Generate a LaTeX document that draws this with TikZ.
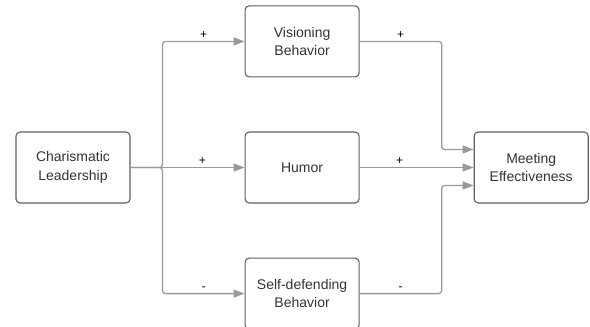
\documentclass[tikz,border=0pt]{standalone}
\usepackage{fontspec}
\setmainfont{Liberation Sans}
\usepackage{xcolor}
\usetikzlibrary{arrows.meta, positioning, calc}
\definecolor{linegray}{HTML}{9A9A9A}
\definecolor{boxgray}{HTML}{5F5F5F}
\definecolor{textgray}{HTML}{333333}

\begin{document}
\begin{tikzpicture}[
    x=1pt, y=-1pt,
    node distance=54pt and 114pt,
    box/.style={rectangle, draw=boxgray, line width=1.1pt, fill=white, text=textgray, minimum width=114pt, minimum height=71pt, align=center, rounded corners=4pt, font=\fontsize{14}{18.5}\selectfont},
    arrow/.style={-{Triangle[length=11pt,width=8pt]}, draw=linegray, line width=1.3pt, rounded corners=3pt},
    sign/.style={font=\fontsize{12}{14}\selectfont, text=black, inner sep=2pt}
]
\useasboundingbox (0,0) rectangle (590,327);

\node[box] (leadership) at (73,167.5) {Charismatic\\Leadership};
\node[box, right=of leadership] (humor) {Humor};
\node[box, above=of humor] (visioning) {Visioning\\Behavior};
\node[box, below=of humor] (selfdef) {Self-defending\\Behavior};
\node[box, right=of humor] (meeting) {Meeting\\Effectiveness};

\draw[arrow] (leadership.east) -- ++(32,0) |- node[sign, pos=0.75, above] {+} (visioning.west);
\draw[arrow] (leadership.east) -- node[sign, pos=0.63, above] {+} (humor.west);
\draw[arrow] (leadership.east) -- ++(32,0) |- node[sign, pos=0.75, above] {-} (selfdef.west);

\draw[arrow] (visioning.east) -| node[sign, pos=0.25, above] {+} ([xshift=-32pt,yshift=18pt]meeting.west) -- ([yshift=18pt]meeting.west);
\draw[arrow] (humor.east) -- node[sign, pos=0.35, above] {+} (meeting.west);
\draw[arrow] (selfdef.east) -| node[sign, pos=0.25, above] {-} ([xshift=-32pt,yshift=-18pt]meeting.west) -- ([yshift=-18pt]meeting.west);

\end{tikzpicture}
\end{document}
